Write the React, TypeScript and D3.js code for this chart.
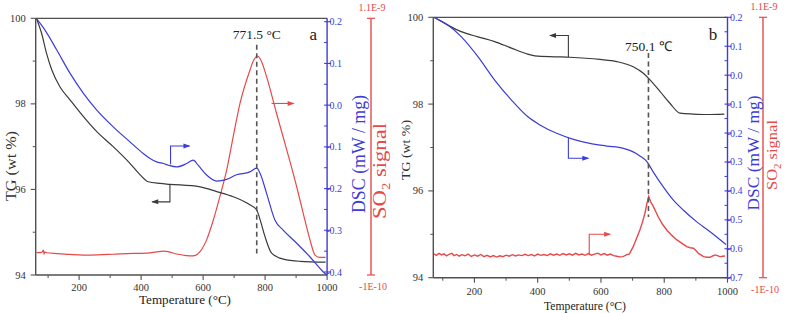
import React from 'react';
import * as d3 from 'd3';

const FONT = '"Liberation Serif", "Times New Roman", serif';
const C_TG = '#3a3a3a';
const C_DSC = '#3c3cd8';
const C_SO2 = '#e64a4a';
const C_AX = '#505050';

// ---------- Panel a ----------
const aTgT = [62, 79, 95, 112, 138, 171, 214, 257, 310, 364, 397, 423, 461, 493, 590, 644, 697, 751, 773, 784, 800, 821, 859, 913, 995];
const aTgV = [100.0, 99.65, 99.18, 98.79, 98.4, 98.09, 97.7, 97.35, 97.0, 96.61, 96.34, 96.18, 96.14, 96.12, 96.06, 95.95, 95.83, 95.64, 95.52, 95.29, 94.89, 94.51, 94.37, 94.32, 94.3];
const aDscT = [62, 90, 128, 171, 214, 257, 310, 364, 407, 429, 450, 472, 488, 515, 547, 568, 584, 612, 644, 676, 708, 751, 773, 784, 805, 832, 859, 902, 945, 988, 1000];
const aDscV = [0.208, 0.18, 0.132, 0.076, 0.028, -0.012, -0.052, -0.088, -0.116, -0.128, -0.136, -0.14, -0.144, -0.148, -0.14, -0.132, -0.144, -0.168, -0.182, -0.178, -0.167, -0.16, -0.151, -0.164, -0.212, -0.276, -0.3, -0.331, -0.364, -0.4, -0.408];
const aSo2T = [63, 80, 85, 87, 89, 95, 130, 170, 213, 260, 310, 375, 420, 450, 472, 490, 515, 545, 560, 575, 590, 611, 633, 654, 676, 697, 719, 751, 763, 776, 789, 805, 837, 870, 902, 923, 945, 961, 977, 995];
const aSo2V = [0.05, 0.06, 0.16, -0.03, 0.08, 0.04, 0.0, -0.04, -0.07, -0.06, -0.03, 0.01, 0.02, 0.08, 0.12, 0.08, -0.02, -0.09, -0.11, -0.08, 0.09, 0.63, 1.57, 2.66, 3.9, 5.46, 7.02, 8.57, 9.04, 9.23, 8.96, 8.26, 6.55, 4.84, 3.12, 1.88, 0.63, -0.07, -0.18, -0.18];

// ---------- Panel b ----------
const bTgT = [72, 116, 158, 211, 264, 317, 369, 391, 454, 502, 597, 650, 702, 734, 755, 787, 818, 850, 892, 934, 990];
const bTgV = [100.0, 99.82, 99.67, 99.55, 99.44, 99.29, 99.15, 99.11, 99.09, 99.08, 99.03, 98.98, 98.86, 98.71, 98.56, 98.29, 98.02, 97.79, 97.77, 97.76, 97.77];
const bDscT = [72, 116, 158, 211, 264, 317, 369, 407, 460, 513, 565, 618, 671, 702, 723, 745, 765, 797, 829, 860, 903, 945, 995];
const bDscV = [0.2, 0.173, 0.133, 0.064, -0.017, -0.086, -0.144, -0.172, -0.201, -0.222, -0.236, -0.245, -0.253, -0.265, -0.279, -0.299, -0.334, -0.386, -0.432, -0.466, -0.507, -0.541, -0.585];
const bSo2T = [72, 80, 88, 96, 104, 112, 120, 128, 136, 144, 152, 160, 170, 180, 190, 200, 210, 220, 230, 240, 250, 260, 270, 280, 290, 300, 310, 320, 330, 340, 350, 360, 370, 380, 390, 400, 410, 420, 430, 440, 450, 460, 470, 480, 490, 500, 510, 520, 530, 540, 550, 560, 570, 580, 590, 600, 610, 620, 630, 640, 650, 660, 670, 680, 690, 702, 712, 723, 731, 739, 745, 751, 757, 765, 773, 781, 795, 808, 824, 840, 856, 871, 882, 892, 900, 908, 916, 924, 935, 945, 953, 961, 968, 976, 985, 992];
const bSo2V = [0.1, 0.03, 0.12, 0.05, 0.1, 0.01, 0.08, 0.12, 0.02, 0.07, -0.01, 0.06, 0.01, 0.09, -0.02, 0.05, -0.01, 0.07, -0.03, 0.03, -0.04, 0.02, -0.05, 0.01, -0.03, 0.04, -0.01, 0.06, 0.0, 0.05, 0.02, 0.08, 0.02, 0.07, 0.0, 0.09, 0.03, 0.07, 0.02, 0.1, 0.04, 0.09, 0.03, 0.11, 0.05, 0.1, 0.04, 0.12, 0.05, 0.09, 0.03, 0.11, 0.04, 0.09, 0.13, 0.05, 0.11, 0.04, 0.09, 0.02, -0.01, -0.04, -0.03, 0.05, 0.1, 0.43, 0.8, 1.2, 1.55, 1.97, 2.4, 2.75, 2.5, 2.3, 2.05, 1.81, 1.45, 1.2, 0.95, 0.74, 0.58, 0.43, 0.38, 0.36, 0.25, 0.12, 0.05, -0.03, -0.06, -0.06, 0.0, 0.05, 0.02, -0.03, -0.01, 0.0];

// ---------- Axes ----------
const xTicks = [200, 400, 600, 800, 1000];
const xMinor = [100, 300, 500, 700, 900];
const tgTicks = [94, 96, 98, 100];
const tgMinor = [95, 97, 99];
const aDscTicks = [0.2, 0.1, 0.0, -0.1, -0.2, -0.3, -0.4];
const bDscTicks = [0.2, 0.1, 0.0, -0.1, -0.2, -0.3, -0.4, -0.5, -0.6, -0.7];
const so2Labels = ['1.1E-9', '-1E-10'];
const so2Domain = [-1, 11]; // units of 1E-10

type Arrow = { axis: 'tg' | 'dsc' | 'so2'; pts: [number, number][] };
type Title = { x: number; y: number; len: number; size: number };

type Cfg = {
  id: string;
  left: number; right: number; top: number; bottom: number;
  tDom: [number, number];
  dscDom: [number, number]; dscRange: [number, number];
  dscTicks: number[];
  so2X: number;
  tgT: number[]; tgV: number[];
  dscT: number[]; dscV: number[];
  so2T: number[]; so2V: number[];
  so2Curve: any; so2W: number;
  peakT: number; peakLabel: string; dashTg: [number, number]; labelTg: number;
  letter: string; letterT: number; letterTg: number;
  arrows: Arrow[];
  tgTitle: Title; dscTitle: Title; so2Title: Title; tempTitle: Title;
  xLabY: number;
};

function Panel({ c }: { c: Cfg }) {
  const x = d3.scaleLinear().domain(c.tDom).range([c.left, c.right]);
  const yTG = d3.scaleLinear().domain([94, 100]).range([c.bottom, c.top]);
  const yDSC = d3.scaleLinear().domain(c.dscDom).range(c.dscRange);
  const ySO2 = d3.scaleLinear().domain(so2Domain).range([c.bottom, c.top]);
  const yOf = { tg: yTG, dsc: yDSC, so2: ySO2 };
  const mk = (ts: number[], vs: number[], y: any, curve: any) =>
    d3.line<number>().x((_, i) => x(ts[i])).y((_, i) => y(vs[i])).curve(curve)(ts) || '';

  const col = { tg: C_TG, dsc: C_DSC, so2: C_SO2 };

  return (
    <g>
      <defs>
        <clipPath id={'clip' + c.id}>
          <rect x={c.left} y={c.top - 1} width={c.right - c.left + 1} height={c.bottom - c.top + 2} />
        </clipPath>
      </defs>
      {/* curves */}
      <g clipPath={`url(#clip${c.id})`} fill="none">
        <path d={mk(c.so2T, c.so2V, ySO2, c.so2Curve)} stroke={C_SO2} strokeWidth={c.so2W} />
        <path d={mk(c.tgT, c.tgV, yTG, d3.curveMonotoneX)} stroke={C_TG} strokeWidth={1.2} />
        <path d={mk(c.dscT, c.dscV, yDSC, d3.curveMonotoneX)} stroke={C_DSC} strokeWidth={1.2} />
      </g>
      {/* dashed peak line */}
      <line x1={x(c.peakT)} x2={x(c.peakT)} y1={yTG(c.dashTg[0])} y2={yTG(c.dashTg[1])}
        stroke="#555" strokeWidth={1.6} strokeDasharray="5,3.5" />
      <text x={x(c.peakT)} y={yTG(c.labelTg)} fontSize={13.5} textAnchor="middle" fill="#222">{c.peakLabel}</text>
      <text x={x(c.letterT)} y={yTG(c.letterTg)} fontSize={17} textAnchor="middle" fill="#222">{c.letter}</text>
      {/* arrows */}
      {c.arrows.map((a, i) => {
        const y = yOf[a.axis];
        const pts = a.pts.map(([t, v]) => [x(t), y(v)] as [number, number]);
        const n = pts.length;
        const [ex, ey] = pts[n - 1];
        const dir = Math.sign(ex - pts[n - 2][0]);
        const tip = `M${ex + dir * 1},${ey} L${ex - dir * 6},${ey - 2.5} L${ex - dir * 6},${ey + 2.5} Z`;
        return (
          <g key={i}>
            <path d={'M' + pts.map(p => p.join(',')).join('L')} fill="none" stroke={col[a.axis]} strokeWidth={1.1} />
            <path d={tip} fill={col[a.axis]} />
          </g>
        );
      })}
      {/* frame */}
      <line x1={c.left} x2={c.right} y1={c.top} y2={c.top} stroke={C_AX} strokeWidth={1.2} />
      <line x1={c.left} x2={c.right} y1={c.bottom} y2={c.bottom} stroke={C_AX} strokeWidth={1.4} />
      <line x1={c.left} x2={c.left} y1={c.top} y2={c.bottom} stroke={C_AX} strokeWidth={1.4} />
      <line x1={c.right} x2={c.right} y1={c.top} y2={c.bottom} stroke={C_DSC} strokeWidth={1.4} />
      {/* x ticks */}
      {xTicks.map(t => (
        <g key={'xt' + t}>
          <line x1={x(t)} x2={x(t)} y1={c.bottom} y2={c.bottom + 5} stroke={C_AX} strokeWidth={1.1} />
          <text x={x(t)} y={c.xLabY} fontSize={10.5} textAnchor="middle" fill="#333">{t}</text>
        </g>
      ))}
      {xMinor.filter(t => t > c.tDom[0]).map(t => (
        <line key={'xm' + t} x1={x(t)} x2={x(t)} y1={c.bottom} y2={c.bottom + 3} stroke={C_AX} strokeWidth={1} />
      ))}
      {/* TG ticks */}
      {tgTicks.map(t => (
        <g key={'yt' + t}>
          <line x1={c.left - 5} x2={c.left} y1={yTG(t)} y2={yTG(t)} stroke={C_AX} strokeWidth={1.1} />
          <text x={c.left - 10} y={yTG(t) + 3.5} fontSize={10.5} textAnchor="end" fill="#333">{t}</text>
        </g>
      ))}
      {tgMinor.map(t => (
        <line key={'ym' + t} x1={c.left - 3} x2={c.left} y1={yTG(t)} y2={yTG(t)} stroke={C_AX} strokeWidth={1} />
      ))}
      {/* DSC ticks */}
      {c.dscTicks.map(t => (
        <g key={'dt' + t}>
          <line x1={c.right - 3} x2={c.right + 4} y1={yDSC(t)} y2={yDSC(t)} stroke={C_DSC} strokeWidth={1.1} />
          <text x={c.right + 15} y={yDSC(t) + 3.5} fontSize={10} textAnchor="end" fill={C_DSC}>
            {t.toFixed(1)}
          </text>
        </g>
      ))}
      {c.dscTicks.slice(1).map(t => (
        <line key={'dm' + t} x1={c.right - 3} x2={c.right} y1={yDSC(t + 0.05)} y2={yDSC(t + 0.05)} stroke={C_DSC} strokeWidth={1} />
      ))}
      {/* SO2 axis */}
      <line x1={c.so2X} x2={c.so2X} y1={ySO2(so2Domain[1])} y2={ySO2(so2Domain[0])} stroke={C_SO2} strokeWidth={1.4} />
      <line x1={c.so2X - 4} x2={c.so2X + 4} y1={ySO2(so2Domain[1])} y2={ySO2(so2Domain[1])} stroke={C_SO2} strokeWidth={1.2} />
      <line x1={c.so2X - 4} x2={c.so2X + 4} y1={ySO2(so2Domain[0])} y2={ySO2(so2Domain[0])} stroke={C_SO2} strokeWidth={1.2} />
      <text x={c.so2X + 1} y={ySO2(so2Domain[1]) - 7} fontSize={10} textAnchor="middle" fill={C_SO2}>{so2Labels[0]}</text>
      <text x={c.so2X + 2} y={ySO2(so2Domain[0]) + 15} fontSize={10} textAnchor="middle" fill={C_SO2}>{so2Labels[1]}</text>
      {/* titles */}
      <text transform={`translate(${c.tgTitle.x},${c.tgTitle.y}) rotate(-90)`} fontSize={c.tgTitle.size} textAnchor="middle" fill="#333"
        textLength={c.tgTitle.len} lengthAdjust="spacingAndGlyphs">TG (wt %)</text>
      <text transform={`translate(${c.dscTitle.x},${c.dscTitle.y}) rotate(-90)`} fontSize={c.dscTitle.size} textAnchor="middle" fill={C_DSC}
        textLength={c.dscTitle.len} lengthAdjust="spacingAndGlyphs">DSC (mW / mg)</text>
      <text transform={`translate(${c.so2Title.x},${c.so2Title.y}) rotate(-90)`} fontSize={c.so2Title.size} textAnchor="middle" fill={C_SO2}
        textLength={c.so2Title.len} lengthAdjust="spacingAndGlyphs">SO<tspan fontSize={c.so2Title.size * 0.65} dy={4}>2</tspan><tspan dy={-4}> signal</tspan></text>
      <text x={c.tempTitle.x} y={c.tempTitle.y} fontSize={c.tempTitle.size} textAnchor="middle" fill="#222"
        textLength={c.tempTitle.len} lengthAdjust="spacingAndGlyphs">Temperature (°C)</text>
    </g>
  );
}

const panelA: Cfg = {
  id: 'a', left: 35.7, right: 327.1, top: 18.3, bottom: 275,
  tDom: [60, 1000], dscDom: [-0.4, 0.2], dscRange: [272, 21.7], dscTicks: aDscTicks,
  so2X: 371,
  tgT: aTgT, tgV: aTgV, dscT: aDscT, dscV: aDscV, so2T: aSo2T, so2V: aSo2V, so2Curve: d3.curveMonotoneX, so2W: 1.2,
  peakT: 773, peakLabel: '771.5 °C', dashTg: [99.38, 94.5], labelTg: 99.52,
  letter: 'a', letterT: 955, letterTg: 99.5,
  arrows: [
    { axis: 'dsc', pts: [[495, -0.142], [495, -0.098], [556, -0.098]] },
    { axis: 'tg', pts: [[493, 96.12], [493, 95.71], [436, 95.71]] },
    { axis: 'so2', pts: [[821, 7.02], [892, 7.02]] },
  ],
  tgTitle: { x: 16, y: 166, len: 70, size: 15 },
  dscTitle: { x: 365, y: 154, len: 118, size: 18 },
  so2Title: { x: 386, y: 171, len: 96, size: 18 },
  tempTitle: { x: 185, y: 304, len: 92, size: 13.5 },
  xLabY: 290.5,
};

const panelB: Cfg = {
  id: 'b', left: 433.3, right: 727.5, top: 17.3, bottom: 277.7,
  tDom: [70, 1000], dscDom: [-0.7, 0.2], dscRange: [277.7, 17.3], dscTicks: bDscTicks,
  so2X: 763,
  tgT: bTgT, tgV: bTgV, dscT: bDscT, dscV: bDscV, so2T: bSo2T, so2V: bSo2V, so2Curve: d3.curveLinear, so2W: 1.4,
  peakT: 750.1, peakLabel: '750.1 ℃', dashTg: [99.18, 95.4], labelTg: 99.22,
  letter: 'b', letterT: 954, letterTg: 99.48,
  arrows: [
    { axis: 'tg', pts: [[497, 99.08], [497, 99.58], [439, 99.58]] },
    { axis: 'dsc', pts: [[497, -0.216], [497, -0.287], [560, -0.287]] },
    { axis: 'so2', pts: [[563, 0.07], [563, 1.0], [629, 1.0]] },
  ],
  tgTitle: { x: 410, y: 150, len: 60, size: 13 },
  dscTitle: { x: 759, y: 153, len: 115, size: 17 },
  so2Title: { x: 777, y: 155, len: 70, size: 15 },
  tempTitle: { x: 585, y: 310, len: 82, size: 13.5 },
  xLabY: 295,
};

export default function App() {
  return (
    <div style={{ position: 'absolute', left: 0, top: 0, width: 790, height: 313, background: '#fff' }}>
      <svg width={790} height={313} style={{ display: 'block', fontFamily: FONT }}>
        <rect width={790} height={313} fill="#fff" />
        <Panel c={panelA} />
        <Panel c={panelB} />
      </svg>
    </div>
  );
}
